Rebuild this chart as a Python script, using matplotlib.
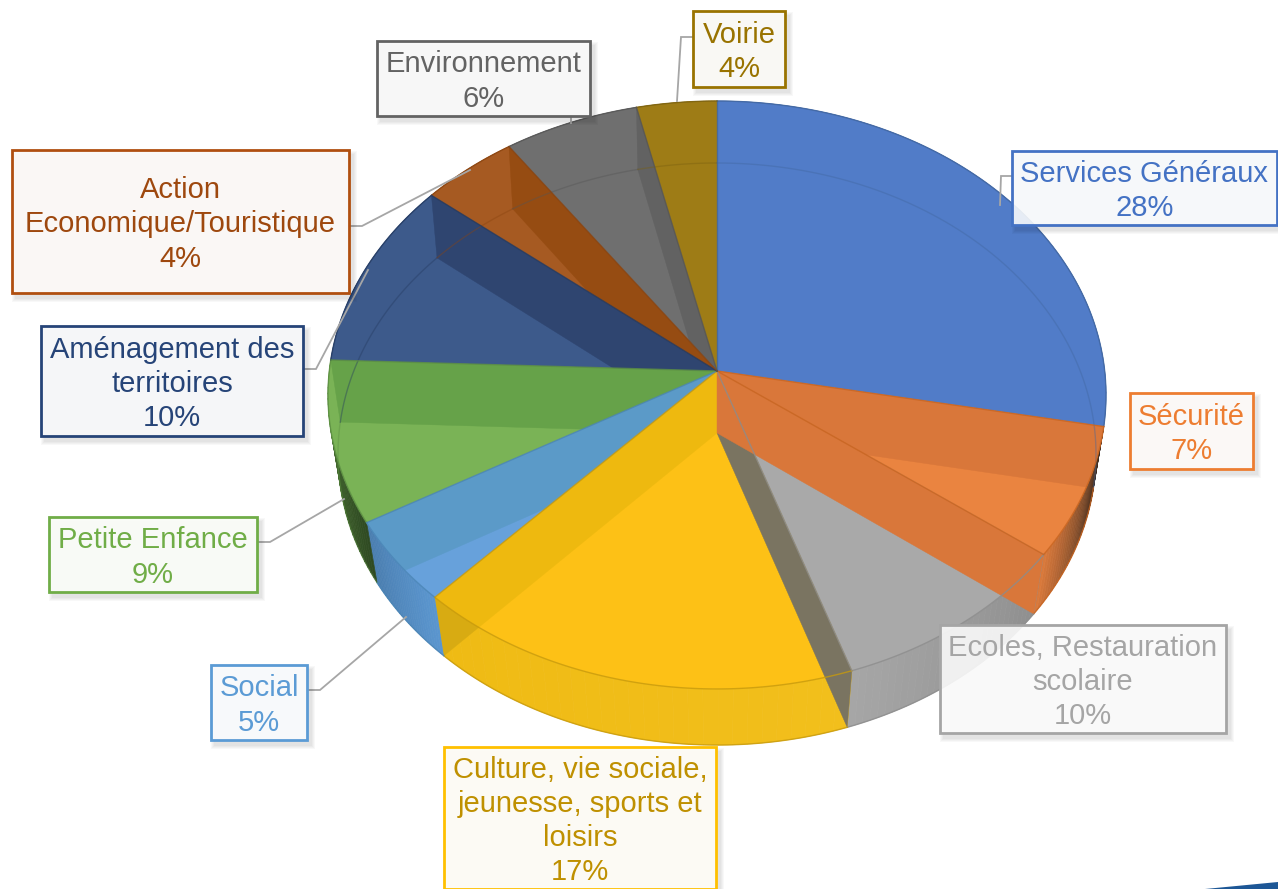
import matplotlib
matplotlib.use("Agg")
import matplotlib.patches as patches
import numpy as np
from matplotlib import pyplot as plt
from matplotlib.colors import to_rgb

plt.rcParams['font.family'] = ['Liberation Sans', 'DejaVu Sans']

# clockwise from 12 o'clock
categories = ["Services Généraux", "Sécurité", "Ecoles, Restauration\nscolaire",
              "Culture, vie sociale,\njeunesse, sports et\nloisirs", "Social", "Petite Enfance",
              "Aménagement des\nterritoires", "Action\nEconomique/Touristique", "Environnement", "Voirie"]
values = [28.0, 7.2, 9.6, 17.2, 4.7, 8.9, 10.3, 4.4, 6.1, 3.6]

top_colors = ["#517cc8", "#ea8440", "#a9a9a9", "#fdc116", "#67a1db", "#7ab356", "#3d5a8b", "#a65a22", "#6f6f6f", "#9e7c16"]
wall_colors = ["#517cc8", "#d9773a", "#7a7461", "#eeb90f", "#5b9ac8", "#66a249", "#2f4570", "#964c12", "#626262", "#9e7c16"]
edge_colors = ["#41669f", "#c8641f", "#8c8c8c", "#c79a0c", "#4a85b5", "#5c8f42", "#243a60", "#8a4410", "#555555", "#7a6010"]
side_start = ["#41669f", "#2f241c", "#8f8f8f", "#f2bf1c", "#5b96cf", "#2f4a22", "#3d5a8b", "#a65a22", "#6f6f6f", "#9e7c16"]
side_end = ["#41669f", "#d9793b", "#a6a6a6", "#efbb14", "#4a7eb0", "#4f7a36", "#3d5a8b", "#a65a22", "#6f6f6f", "#9e7c16"]

text_colors = ["#4472c4", "#ed7d31", "#a5a5a5", "#bf9000", "#5b9bd5", "#70ad47", "#264478", "#9e480e", "#636363", "#997300"]
box_colors = ["#4472c4", "#ed7d31", "#a5a5a5", "#ffc000", "#5b9bd5", "#70ad47", "#264478", "#b04f10", "#636363", "#997300"]

# label boxes in pixels: left, top, right, bottom
boxes = [(1012, 151, 1277, 225), (1130, 393, 1253, 469), (940, 625, 1226, 733), (444, 747, 716, 889),
         (211, 665, 307, 740), (49, 517, 257, 592), (41, 326, 303, 436), (12, 150, 349, 293),
         (377, 41, 590, 116), (693, 11, 785, 87)]

leaders = [[(1012, 176), (1001, 176), (1000, 205)], None, None, None,
           [(307, 690), (320, 690), (406, 617)], [(257, 542), (270, 542), (344, 499)],
           [(303, 369), (316, 369), (368, 270)], [(349, 226), (362, 226), (470, 170)],
           [(571, 116), (571, 123)], [(693, 37), (681, 37), (677, 101)]]

TOP = dict(a=387.7, b=292.0, k=0.0816, cy=371.0)
BOTTOM = dict(a=378.0, b=289.5, k=0.0722, cy=433.0)
CX = 717.0
BACK_SLICES = (0, 5, 6, 7, 8, 9)
RADIAL_OWNER = [0, 1, 1, 2, 3, 4, 5, 6, 7, 8]  # which slice colours each radial edge


def project(theta, a, b, k, cy):
    w = 1 + k * np.cos(theta)
    return np.column_stack((CX + a * np.sin(theta) / w, cy - b * np.cos(theta) / w))


def arc(t0, t1, plane, n=80):
    return project(np.linspace(t0, t1, n), **plane)


def mix(c0, c1, f):
    return tuple((1 - f) * x + f * y for x, y in zip(to_rgb(c0), to_rgb(c1)))


fig = plt.figure(figsize=(12.78, 8.89), dpi=100)
ax = fig.add_axes([0, 0, 1, 1])
ax.set_xlim(0, 1278)
ax.set_ylim(889, 0)
ax.axis('off')

edges = np.radians(np.concatenate(([0], np.cumsum(values))) / np.sum(values) * 360)
apex_top = np.array([[CX, TOP['cy']]])
apex_bottom = np.array([[CX, BOTTOM['cy']]])

# outer skin, only the front part ends up visible
for i in range(len(values)):
    steps = np.linspace(edges[i], edges[i + 1], 31)
    for j in range(30):
        f = j / 29
        top_part = arc(steps[j], steps[j + 1], TOP, 4)
        low_part = arc(steps[j], steps[j + 1], BOTTOM, 4)
        c = mix(side_start[i], side_end[i], f)
        ax.add_patch(patches.Polygon(np.vstack((top_part, low_part[::-1])), fc=c, ec=c, lw=0.5, zorder=1))

# top faces
wedges = []
for i in range(len(values)):
    pts = np.vstack((apex_top, arc(edges[i], edges[i + 1], TOP)))
    poly = patches.Polygon(pts, fc=top_colors[i], ec=top_colors[i], lw=0.4, zorder=2)
    ax.add_patch(poly)
    wedges.append(poly)


def wall(theta, color, zorder, clip=None):
    rim_top = project(np.array([theta]), **TOP)
    rim_low = project(np.array([theta]), **BOTTOM)
    pts = np.vstack((apex_top, rim_top, rim_low, apex_bottom))
    p = patches.Polygon(pts, fc=color, ec=color, lw=0.3, zorder=zorder)
    ax.add_patch(p)
    if clip is not None:
        p.set_clip_path(clip)


# walls seen through the glass, back ones stay inside their own slice
wall(edges[3], wall_colors[2], 3)
wall(edges[2], wall_colors[1], 4)
wall(edges[1], wall_colors[1], 4, clip=wedges[1])
for i in [3, 4, 5, 6, 7, 8]:
    wall(edges[i + 1], wall_colors[i], 3, clip=wedges[i])

# darker corner where the culture wall meets its outer skin
culture_band = patches.Polygon(np.vstack((arc(edges[3], edges[4], TOP), arc(edges[3], edges[4], BOTTOM)[::-1])),
                               transform=ax.transData)
wall(edges[4], "#d8ab12", 3, clip=culture_band)

# rims and radial edges
for i in range(len(values)):
    low = arc(edges[i], edges[i + 1], BOTTOM)
    top = arc(edges[i], edges[i + 1], TOP)
    low_alpha = 0.4 if i in BACK_SLICES else 0.8
    ax.plot(low[:, 0], low[:, 1], color=edge_colors[i], lw=1.0, alpha=low_alpha, zorder=5)
    ax.plot(top[:, 0], top[:, 1], color=edge_colors[i], lw=1.0, alpha=0.8, zorder=6)
    rim = project(np.array([edges[i]]), **TOP)
    ax.plot([CX, rim[0, 0]], [TOP['cy'], rim[0, 1]], color=edge_colors[RADIAL_OWNER[i]], lw=1.0, alpha=0.8, zorder=6)

# leader lines
for line in leaders:
    if line is None:
        continue
    xs, ys = zip(*line)
    ax.plot(xs, ys, color="#a6a6a6", lw=1.3, zorder=7, solid_joinstyle='miter')

# label boxes with a soft drop shadow
for i, (l, t, r, b) in enumerate(boxes):
    for grow in (4, 3, 2, 1):
        ax.add_patch(patches.Rectangle((l + 4 - grow, t + 5 - grow), r - l + 2 * grow, b - t + 2 * grow,
                                       fc="k", ec="none", alpha=0.028, zorder=8))
    tint = mix("#ffffff", box_colors[i], 0.03)
    ax.add_patch(patches.Rectangle((l, t), r - l, b - t, fc=tint, ec="none", alpha=0.9, zorder=9))
    ax.add_patch(patches.Rectangle((l, t), r - l, b - t, fc="none", ec=box_colors[i], lw=2.0, zorder=10))
    label = f"{categories[i]}\n{round(values[i])}%"
    ax.text((l + r) / 2, (t + b) / 2 + 3, label, color=text_colors[i], fontsize=21, ha='center', va='center',
            linespacing=1.28, zorder=11)

# sliver of the page background, bottom right corner
ax.add_patch(patches.Polygon([(1205, 889), (1278, 882), (1278, 889)], fc="#1d5796", ec="none", zorder=12))

fig.savefig("out.png", dpi=100)
